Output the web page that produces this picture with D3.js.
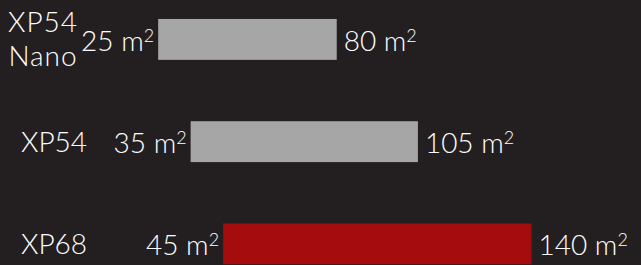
<!DOCTYPE html>
<html>
<head>
<meta charset="utf-8">
<script src="https://cdn.jsdelivr.net/npm/d3@7/dist/d3.min.js"></script>
<style>
  html, body { margin: 0; padding: 0; background: #231f20; }
  svg { display: block; }
  text { font-family: Lato, "Open Sans", sans-serif; font-weight: 300; fill: #ffffff; }
</style>
</head>
<body>
<script>
// ---- data ----
const categories = ["XP54\nNano", "XP54", "XP68"];
const minArea = [25, 35, 45];
const maxArea = [80, 105, 140];
const barColors = ["#a6a6a6", "#a6a6a6", "#a50c0e"];
const unitLabel = "m";
const unitSup = "2";

const W = 641, H = 265;
const svg = d3.select("body").append("svg").attr("width", W).attr("height", H);
svg.append("rect").attr("width", W).attr("height", H).attr("fill", "#231f20");

const rows = categories.map((c, i) => ({ cat: c, lo: minArea[i], hi: maxArea[i], color: barColors[i] }));

const x = d3.scaleLinear().domain([0, 150]).range([77, 564]);
const y = d3.scaleBand().domain(categories).range([-11.7, 295]).paddingInner(0.6).paddingOuter(0.3);

const g = svg.append("g");

// bars
g.selectAll("rect.bar").data(rows).join("rect")
  .attr("class", "bar")
  .attr("x", d => x(d.lo))
  .attr("width", d => x(d.hi) - x(d.lo))
  .attr("y", d => y(d.cat))
  .attr("height", y.bandwidth())
  .attr("fill", d => d.color);

const fs = 28, gap = 4;
function valueLabel(sel) {
  sel.append("tspan").text(d => d.v + " " + unitLabel);
  sel.append("tspan").attr("font-size", 18).attr("dy", -9).text(unitSup);
}

// left value labels
g.selectAll("text.lo").data(rows.map(r => ({ v: r.lo, cat: r.cat }))).join("text")
  .attr("class", "lo")
  .attr("font-size", fs)
  .attr("text-anchor", "end")
  .attr("x", d => x(d.v) - gap)
  .attr("y", d => y(d.cat) + y.bandwidth() / 2 + 11.5)
  .call(valueLabel);

// right value labels
g.selectAll("text.hi").data(rows.map(r => ({ v: r.hi, cat: r.cat }))).join("text")
  .attr("class", "hi")
  .attr("font-size", fs)
  .attr("text-anchor", "start")
  .attr("x", d => x(d.v) + gap + 3)
  .attr("y", d => y(d.cat) + y.bandwidth() / 2 + 11.5)
  .call(valueLabel);

// category labels
const catG = g.selectAll("text.cat").data(rows).join("text")
  .attr("class", "cat")
  .attr("font-size", fs)
  .attr("text-anchor", "middle");
catG.each(function (d) {
  const lines = d.cat.split("\n");
  const cx = lines.length > 1 ? 43 : 54;
  const cy = y(d.cat) + y.bandwidth() / 2;
  d3.select(this).selectAll("tspan").data(lines).join("tspan")
    .attr("x", cx)
    .attr("y", (l, i) => cy + 10 + (i - (lines.length - 1) / 2) * 34)
    .attr("letter-spacing", lines.length > 1 ? 1 : 0)
    .text(l => l);
});
</script>
</body>
</html>
